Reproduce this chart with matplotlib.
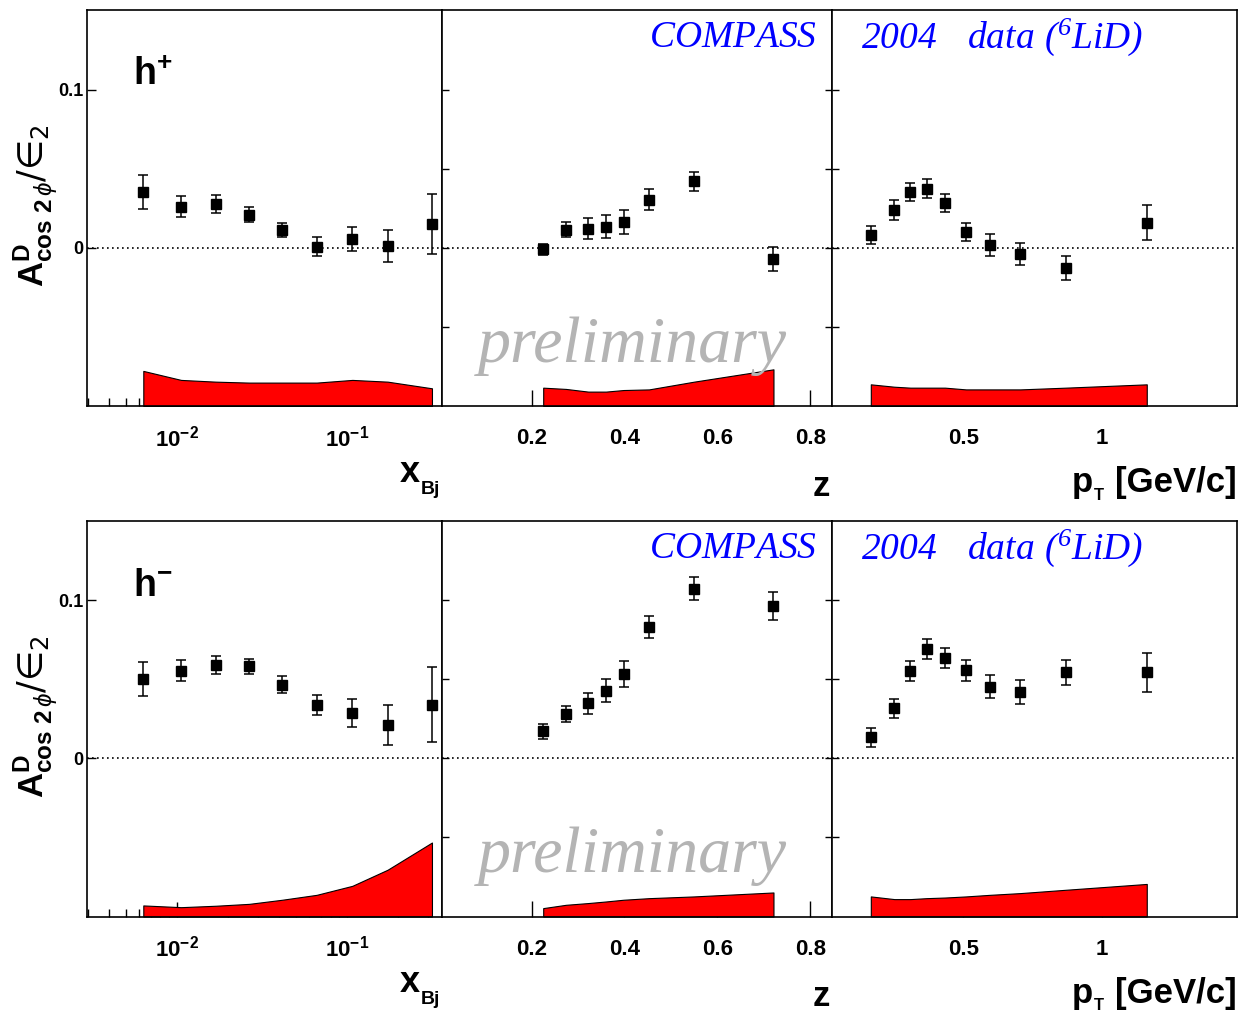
import numpy as np
import matplotlib
matplotlib.use('Agg')
import matplotlib.pyplot as plt
from matplotlib.ticker import FixedLocator, FixedFormatter, NullFormatter, LogLocator, NullLocator

plt.rcParams['font.family'] = ['Liberation Sans', 'DejaVu Sans']
plt.rcParams['mathtext.fontset'] = 'custom'
plt.rcParams['mathtext.rm'] = 'Liberation Serif:italic'
plt.rcParams['mathtext.it'] = 'Liberation Sans:italic'
plt.rcParams['mathtext.bf'] = 'Liberation Sans:bold'
plt.rcParams['mathtext.sf'] = 'DejaVu Sans'

# ---------------- data ----------------
xbj = [0.00634, 0.01057, 0.0169, 0.0266, 0.0416, 0.0663, 0.1075, 0.1734, 0.316]
zval = [0.225, 0.274, 0.322, 0.360, 0.398, 0.453, 0.550, 0.721]
ptval = [0.166, 0.251, 0.309, 0.368, 0.434, 0.510, 0.596, 0.706, 0.870, 1.163]

# h+ (top row)
xbj_hp = [0.0354, 0.0261, 0.0278, 0.0211, 0.0112, 0.0008, 0.0057, 0.0010, 0.0150]
xbj_hp_err = [0.0110, 0.0065, 0.0055, 0.0048, 0.0046, 0.0059, 0.0075, 0.0102, 0.0190]
xbj_hp_sys = [0.0222, 0.0165, 0.0154, 0.0148, 0.0148, 0.0148, 0.0165, 0.0154, 0.0112]

z_hp = [-0.0008, 0.0114, 0.0122, 0.0135, 0.0165, 0.0306, 0.0422, -0.0072]
z_hp_err = [0.0035, 0.0047, 0.0065, 0.0073, 0.0076, 0.0066, 0.0060, 0.0075]
z_hp_sys = [0.0116, 0.0108, 0.0091, 0.0091, 0.0101, 0.0105, 0.0154, 0.0232]

pt_hp = [0.0080, 0.0238, 0.0354, 0.0375, 0.0285, 0.0101, 0.0019, -0.0036, -0.0129, 0.0160]
pt_hp_err = [0.0057, 0.0063, 0.0057, 0.0058, 0.0059, 0.0059, 0.0072, 0.0070, 0.0076, 0.0110]
pt_hp_sys = [0.0137, 0.0122, 0.0116, 0.0116, 0.0116, 0.0105, 0.0105, 0.0105, 0.0116, 0.0137]

# h- (bottom row)
xbj_hm = [0.0503, 0.0555, 0.0591, 0.0582, 0.0466, 0.0338, 0.0285, 0.0213, 0.0340]
xbj_hm_err = [0.0110, 0.0065, 0.0054, 0.0047, 0.0053, 0.0064, 0.0089, 0.0128, 0.0236]
xbj_hm_sys = [0.0070, 0.0059, 0.0068, 0.0080, 0.0106, 0.0137, 0.0194, 0.0296, 0.0468]

z_hm = [0.0171, 0.0281, 0.0348, 0.0428, 0.0534, 0.0831, 0.1074, 0.0966]
z_hm_err = [0.0047, 0.0049, 0.0065, 0.0072, 0.0081, 0.0072, 0.0072, 0.0089]
z_hm_sys = [0.0053, 0.0074, 0.0085, 0.0095, 0.0106, 0.0116, 0.0127, 0.0152]

pt_hm = [0.0133, 0.0317, 0.0555, 0.0694, 0.0635, 0.0557, 0.0454, 0.0420, 0.0544, 0.0544]
pt_hm_err = [0.0058, 0.0062, 0.0063, 0.0063, 0.0064, 0.0065, 0.0072, 0.0076, 0.0081, 0.0121]
pt_hm_sys = [0.0127, 0.0110, 0.0110, 0.0116, 0.0120, 0.0127, 0.0137, 0.0148, 0.0169, 0.0206]

xbj_ticklabels = [r'$\mathbf{10^{-2}}$', r'$\mathbf{10^{-1}}$']
z_ticklabels = ['0.2', '0.4', '0.6', '0.8']
pt_ticklabels = ['0.5', '1']
y_ticklabels = ['0', '0.1']
charge_labels = [r'$\mathbf{h}^{\mathbf{+}}$', r'$\mathbf{h}^{\mathbf{-}}$']

# ---------------- layout ----------------
W, H = 1239, 1015
fig = plt.figure(figsize=(W / 100, H / 100), dpi=100)

def fx(px):
    return px / W

def fy(py):
    return 1 - py / H

YMIN, YMAX = -0.1, 0.1505
rows = [(10, 406), (520.5, 916.5)]
cols = [(87.3, 442), (442, 831.5), (831.5, 1237)]

row_data = [
    [(xbj, xbj_hp, xbj_hp_err, xbj_hp_sys), (zval, z_hp, z_hp_err, z_hp_sys), (ptval, pt_hp, pt_hp_err, pt_hp_sys)],
    [(xbj, xbj_hm, xbj_hm_err, xbj_hm_sys), (zval, z_hm, z_hm_err, z_hm_sys), (ptval, pt_hm, pt_hm_err, pt_hm_sys)],
]

ylabel = (r'$\mathbf{A}^{\mathbf{D}}_{\mathbf{cos\ 2}\,\phi}\mathsf{/' + '\u2208'
          + r'_{2}}$')

for r, (top, bot) in enumerate(rows):
    for c, (left, right) in enumerate(cols):
        ax = fig.add_axes([fx(left), fy(bot), fx(right) - fx(left), (bot - top) / H])
        x, y, e, s = row_data[r][c]
        x = np.asarray(x); y = np.asarray(y); e = np.asarray(e); s = np.asarray(s)
        ax.fill_between(x, YMIN, YMIN + s, facecolor='#ff0000', edgecolor='black', lw=0.8, zorder=1)
        ax.axhline(0, color='black', ls=(0, (1, 2)), lw=1.2, zorder=2)
        ax.errorbar(x, y, yerr=e, fmt='s', color='black', ms=7, capsize=3.6,
                    elinewidth=1.1, capthick=1.1, zorder=3)
        ax.set_ylim(YMIN, YMAX)
        ax.set_axisbelow(True)
        for sp in ax.spines.values():
            sp.set_linewidth(1.2)
            sp.set_zorder(5)
        ax.tick_params(which='both', direction='in', labelsize=16, width=1.0)
        if c == 0:
            ax.set_xscale('log')
            ax.set_xlim(0.00297, 0.362)
            ax.xaxis.set_major_locator(FixedLocator([0.01, 0.1]))
            ax.xaxis.set_major_formatter(FixedFormatter(xbj_ticklabels))
            ax.xaxis.set_minor_locator(LogLocator(base=10, subs=np.arange(2, 10)))
            ax.xaxis.set_minor_formatter(NullFormatter())
            ax.tick_params(axis='x', which='major', length=11, pad=14)
            ax.tick_params(axis='x', which='minor', length=6)
            ax.yaxis.set_major_locator(FixedLocator([0, 0.1]))
            ax.yaxis.set_major_formatter(FixedFormatter(y_ticklabels))
            ax.yaxis.set_minor_locator(NullLocator())
            ax.tick_params(axis='y', which='major', length=6.5, pad=3, labelsize=13,
                           left=True, right=False)
            for lab in ax.get_yticklabels():
                lab.set_fontweight('bold')
        else:
            ax.yaxis.set_major_locator(FixedLocator([-0.05, 0, 0.05, 0.1]))
            ax.yaxis.set_minor_locator(NullLocator())
            ax.tick_params(axis='y', length=5, labelleft=False, left=True,
                           right=(c == 1))
            if c == 1:
                ax.set_xlim(0.007, 0.846)
                ax.xaxis.set_major_locator(FixedLocator([0.2, 0.4, 0.6, 0.8]))
                ax.xaxis.set_major_formatter(FixedFormatter(z_ticklabels))
            else:
                ax.set_xlim(0.024, 1.489)
                ax.xaxis.set_major_locator(FixedLocator([0.5, 1.0]))
                ax.xaxis.set_major_formatter(FixedFormatter(pt_ticklabels))
            ax.xaxis.set_minor_locator(NullLocator())
            ax.tick_params(axis='x', length=11.5, pad=16, labelsize=16)
            for lab in ax.get_xticklabels():
                lab.set_fontweight('bold')

    off = top - 10
    # y-axis title
    fig.text(fx(36), fy(206 + off), ylabel, rotation=90, ha='center', va='center', fontsize=25)
    # charge label
    fig.text(fx(133), fy(85 + off), charge_labels[r], ha='left', va='baseline', fontsize=27)
    # experiment labels
    fig.text(fx(817), fy(47 + off), r'$\mathrm{COMPASS}$', ha='right', va='baseline',
             fontsize=27, color='#0000ff')
    fig.text(fx(861), fy(48 + off), r'$\mathrm{2004\ \ \ data\ (^{6}LiD)}$', ha='left',
             va='baseline', fontsize=27, color='#0000ff')
    # preliminary watermark
    fig.text(fx(632), fy(362 + off), 'preliminary', ha='center', va='baseline', fontsize=47.5,
             family='Liberation Serif', style='italic', color='#b4b4b4', zorder=10)
    # x-axis titles
    fig.text(fx(420), fy(482 + off), 'x', ha='right', va='baseline', fontsize=26, fontweight='bold')
    fig.text(fx(421), fy(494 + off), 'Bj', ha='left', va='baseline', fontsize=14, fontweight='bold')
    fig.text(fx(830), fy(496 + off), 'z', ha='right', va='baseline', fontsize=25, fontweight='bold')
    fig.text(fx(1093), fy(492 + off), 'p', ha='right', va='baseline', fontsize=25, fontweight='bold')
    fig.text(fx(1094), fy(500 + off), 'T', ha='left', va='baseline', fontsize=12, fontweight='bold')
    fig.text(fx(1237), fy(492 + off), '[GeV/c]', ha='right', va='baseline', fontsize=25, fontweight='bold')

fig.savefig('out.png', dpi=100)
